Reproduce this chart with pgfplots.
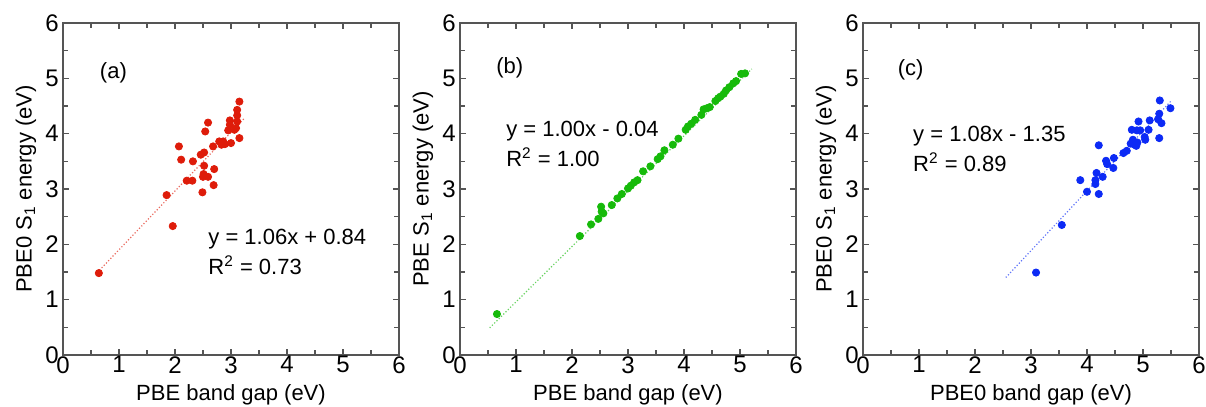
\documentclass[border=0pt]{standalone}
\usepackage{fontspec}
\setmainfont{Liberation Sans}
\usepackage{pgfplots}
\pgfplotsset{compat=1.18}
\definecolor{ptred}{RGB}{222,28,10}
\definecolor{ptgreen}{RGB}{22,186,10}
\definecolor{ptblue}{RGB}{12,42,245}
\definecolor{axgray}{RGB}{85,85,85}

\tikzset{annot/.style={font=\fontsize{11}{15}\selectfont, align=left, inner sep=0pt}}

\pgfplotsset{
  panel/.style={
    scale only axis, width=168pt, height=166pt,
    xmin=0, xmax=6, ymin=0, ymax=6,
    xtick={0,...,6}, ytick={0,...,6}, minor tick num=1,
    tick align=inside, major tick length=3pt, minor tick length=2.5pt,
    axis line style={axgray, line width=0.7pt},
    every tick/.style={axgray, line width=0.6pt},
    ticklabel style={font=\fontsize{12}{14}\selectfont},
    /pgf/number format/assume math mode=true,
    xticklabel style={inner sep=0.5pt},
    yticklabel style={inner sep=2pt},
    every axis x label/.style={at={(axis description cs:0.5,-0.12)}, anchor=center,
      font=\fontsize{11}{13}\selectfont},
    every axis y label/.style={at={(axis description cs:-0.11,0.5)}, anchor=center, rotate=90,
      font=\fontsize{11}{13}\selectfont},
    clip=false,
  },
}

\begin{document}
\begin{tikzpicture}
\path[use as bounding box] (0,0) rectangle (603pt,203.5pt);

% (a)
\begin{axis}[panel, at={(31.5pt,26pt)}, anchor=south west,
  xlabel={PBE band gap (eV)}, ylabel={PBE0 S\textsubscript{1} energy (eV)}]
\addplot[ptred!65, densely dotted, line width=0.6pt] coordinates {(0.65,1.53) (3.25,4.29)};
\addplot[only marks, mark=*, mark size=1.8pt, color=ptred] coordinates {
(0.64,1.48) (1.85,2.89) (1.96,2.33) (2.07,3.77) (2.11,3.53) (2.21,3.15)
(2.31,3.15) (2.32,3.50) (2.46,3.62) (2.49,2.94) (2.50,3.22) (2.51,3.27)
(2.52,3.42) (2.52,3.66) (2.54,4.04) (2.59,3.22) (2.59,4.20) (2.68,3.77)
(2.69,3.07) (2.70,3.36) (2.79,3.86) (2.83,3.80) (2.86,3.86) (2.89,3.81)
(2.95,4.06) (2.98,4.16) (2.98,4.24) (3.00,3.83) (3.06,4.07) (3.09,4.10)
(3.11,4.22) (3.11,4.33) (3.11,4.43) (3.15,3.92) (3.15,4.58)
};
\node[annot] at (axis cs:0.9,5.1) {(a)};
\node[annot, anchor=west] at (axis cs:2.59,1.86) {y = 1.06x + 0.84\\R\textsuperscript{2} = 0.73};
\end{axis}

% (b)
\begin{axis}[panel, at={(230pt,26pt)}, anchor=south west,
  xlabel={PBE band gap (eV)}, ylabel={PBE S\textsubscript{1} energy (eV)}]
\addplot[ptgreen!65, densely dotted, line width=0.6pt] coordinates {(0.53,0.49) (5.21,5.17)};
\addplot[only marks, mark=*, mark size=1.8pt, color=ptgreen] coordinates {
(0.66,0.74) (2.14,2.15) (2.34,2.36) (2.47,2.46) (2.52,2.68) (2.53,2.59)
(2.56,2.56) (2.71,2.71) (2.81,2.83) (2.89,2.91) (3.00,3.01) (3.05,3.06)
(3.11,3.12) (3.17,3.16) (3.27,3.32) (3.40,3.41) (3.53,3.54) (3.58,3.59)
(3.65,3.70) (3.80,3.80) (3.90,3.91) (4.03,4.07) (4.07,4.13) (4.13,4.18)
(4.20,4.25) (4.31,4.34) (4.35,4.44) (4.41,4.46) (4.46,4.48) (4.56,4.59)
(4.61,4.64) (4.65,4.67) (4.71,4.72) (4.75,4.78) (4.81,4.84) (4.88,4.91)
(4.93,4.95) (5.02,5.08) (5.09,5.09)
};
\node[annot] at (axis cs:0.89,5.19) {(b)};
\node[annot, anchor=west] at (axis cs:0.82,3.82) {y = 1.00x - 0.04\\R\textsuperscript{2} = 1.00};
\end{axis}

% (c)
\begin{axis}[panel, at={(431.5pt,26pt)}, anchor=south west,
  xlabel={PBE0 band gap (eV)}, ylabel={PBE0 S\textsubscript{1} energy (eV)}]
\addplot[ptblue!65, densely dotted, line width=0.6pt] coordinates {(2.55,1.40) (5.51,4.60)};
\addplot[only marks, mark=*, mark size=1.8pt, color=ptblue] coordinates {
(3.09,1.49) (3.55,2.35) (3.88,3.16) (4.00,2.95) (4.21,3.79) (4.21,2.91)
(4.15,3.09) (4.15,3.16) (4.17,3.29) (4.28,3.22) (4.34,3.51) (4.36,3.45)
(4.47,3.38) (4.48,3.56) (4.65,3.65) (4.71,3.69) (4.78,3.82) (4.80,4.07)
(4.82,3.89) (4.85,3.80) (4.90,3.84) (4.92,4.22) (4.89,4.06) (4.95,4.06)
(4.88,3.78) (5.03,3.94) (5.04,3.89) (5.10,4.07) (5.12,4.24) (5.27,4.26)
(5.29,4.36) (5.29,3.92) (5.30,4.60) (5.33,4.19) (5.49,4.46)
};
\node[annot] at (axis cs:0.85,5.15) {(c)};
\node[annot, anchor=west] at (axis cs:0.89,3.72) {y = 1.08x - 1.35\\R\textsuperscript{2} = 0.89};
\end{axis}
\end{tikzpicture}
\end{document}
